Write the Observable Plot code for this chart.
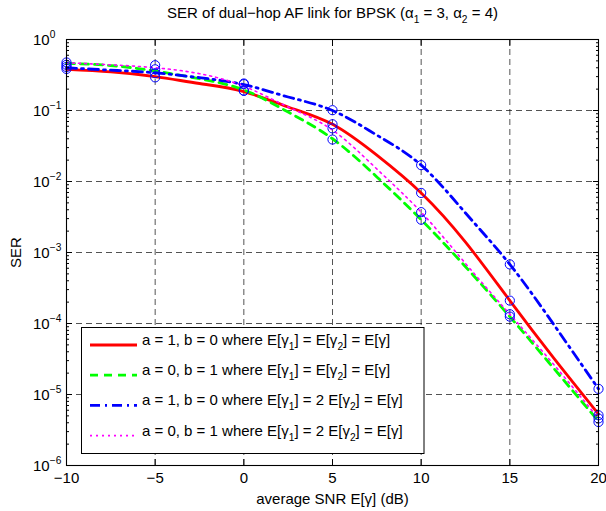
<!DOCTYPE html>
<html><head><meta charset="utf-8">
<script src="https://cdn.jsdelivr.net/npm/d3@7"></script>
<script src="https://cdn.jsdelivr.net/npm/@observablehq/plot@0.6"></script>
<style>body{margin:0;background:#fff} svg{display:block}</style>
</head><body><div id="chart"></div>
<script>
const FONT = "'Liberation Sans', Arial, Helvetica, sans-serif";

// analytic curves
const snrLine = [-10, -7.5, -5, -2.5, 0, 2.5, 5, 7.5, 10, 12.5, 15, 17.5, 20];
const serRed   = [0.38, 0.35, 0.30, 0.24, 0.185, 0.112, 0.064, 0.0235, 0.0069, 0.0014, 2.1e-4, 3.2e-5, 5.3e-6];
const serGreen = [0.46, 0.43, 0.36, 0.28, 0.195, 0.095, 0.040, 0.0116, 0.0029, 6.3e-4, 1.25e-4, 2.3e-5, 4.2e-6];
const serBlue  = [0.40, 0.37, 0.34, 0.29, 0.232, 0.155, 0.100, 0.045, 0.017, 0.0036, 6.8e-4, 9.5e-5, 1.2e-5];
const serPink  = [0.47, 0.44, 0.40, 0.33, 0.22, 0.112, 0.053, 0.0150, 0.0037, 7.0e-4, 1.35e-4, 2.6e-5, 4.6e-6];

// simulated points (blue circles)
const snrSim   = [-10, -5, 0, 5, 10, 15, 20];
const simRed   = [0.385, 0.293, 0.19, 0.064, 0.0069, 2.1e-4, 5.1e-6];
const simGreen = [0.44, 0.38, 0.19, 0.039, 0.0029, 1.25e-4, 4.1e-6];
const simBlue  = [0.41, 0.335, 0.24, 0.101, 0.017, 6.8e-4, 1.2e-5];
const simPink  = [0.475, 0.434, 0.235, 0.056, 0.0037, 1.35e-4, 4.6e-6];

const seriesNames = [
  "a = 1, b = 0 where E[γ_{1}] = E[γ_{2}] = E[γ]",
  "a = 0, b = 1 where E[γ_{1}] = E[γ_{2}] = E[γ]",
  "a = 1, b = 0 where E[γ_{1}] = 2 E[γ_{2}] = E[γ]",
  "a = 0, b = 1 where E[γ_{1}] = 2 E[γ_{2}] = E[γ]"
];
const seriesColors = ["#ff0000", "#00ff00", "#0000ff", "#ff00ff"];
const seriesDash = [null, "8,6", "10,5,2,5", "2,4"];
const seriesWidth = [2.8, 2.8, 2.8, 1.6];

const xTicks = [-10, -5, 0, 5, 10, 15, 20];
const yTicks = [1e-6, 1e-5, 1e-4, 1e-3, 1e-2, 1e-1, 1];
const yMinor = [];
for (let e = -6; e < 0; e++) for (let k = 2; k <= 9; k++) yMinor.push(k * Math.pow(10, e));

const titleText = "SER of dual−hop AF link for BPSK (α_{1} = 3, α_{2} = 4)";
const xLabel = "average SNR E[γ] (dB)";
const yLabel = "SER";

const lineVals = [serRed, serGreen, serBlue, serPink];
const simVals = [simRed, simGreen, simBlue, simPink];
const lineData = lineVals.map(v => snrLine.map((x, j) => ({x, y: v[j]})));
const simData = simVals.flatMap(v => snrSim.map((x, j) => ({x, y: v[j]})));

const gridStyle = {stroke: "#000", strokeOpacity: 0.85, strokeWidth: 0.8, strokeDasharray: "6,4"};
const noText = () => "";

const chart = Plot.plot({
  width: 606, height: 511,
  marginTop: 39, marginBottom: 46, marginLeft: 66, marginRight: 8,
  style: {fontFamily: FONT, fontSize: "15px", background: "#fff", color: "#000"},
  x: {domain: [-10, 20], label: null},
  y: {type: "log", domain: [1e-6, 1], label: null},
  marks: [
    Plot.gridX(xTicks, gridStyle),
    Plot.gridY(yTicks, gridStyle),
    ...lineData.map((d, i) => Plot.line(d, {x: "x", y: "y", curve: "natural",
      stroke: seriesColors[i], strokeWidth: seriesWidth[i], strokeDasharray: seriesDash[i]})),
    Plot.dot(simData, {x: "x", y: "y", r: 4.6, stroke: "#0000ff", fill: "none", strokeWidth: 1}),
    Plot.frame({stroke: "#000", strokeWidth: 1.1}),
    Plot.axisX(xTicks, {anchor: "bottom", tickSize: 0, tickPadding: 7, label: null,
      tickFormat: d => d < 0 ? "−" + (-d) : String(d)}),
    Plot.axisX(xTicks, {anchor: "bottom", tickSize: -6, tickFormat: noText, label: null}),
    Plot.axisX(xTicks, {anchor: "top", tickSize: -6, tickFormat: noText, label: null}),
    Plot.axisY(yTicks, {anchor: "left", tickSize: 0, tickPadding: 0, label: null,
      tickFormat: d => "10^{" + (Math.round(Math.log10(d)) < 0 ? "−" + (-Math.round(Math.log10(d))) : Math.round(Math.log10(d))) + "}"}),
    Plot.axisY(yTicks, {anchor: "left", tickSize: -6, tickFormat: noText, label: null}),
    Plot.axisY(yTicks, {anchor: "right", tickSize: -6, tickFormat: noText, label: null}),
    Plot.axisY(yMinor, {anchor: "left", tickSize: -3, tickFormat: noText, label: null}),
    Plot.axisY(yMinor, {anchor: "right", tickSize: -3, tickFormat: noText, label: null}),
    Plot.text([titleText], {frameAnchor: "top", lineAnchor: "middle", textAnchor: "middle", dy: -26, fontSize: 15}),
    Plot.text([xLabel], {frameAnchor: "bottom", lineAnchor: "middle", textAnchor: "middle", dy: 34, fontSize: 15}),
    Plot.text([yLabel], {frameAnchor: "left", lineAnchor: "middle", textAnchor: "middle", dx: -50, rotate: -90, fontSize: 15})
  ]
});
document.getElementById("chart").appendChild(chart);

function rich(el, s, base) {
  const sel = d3.select(el);
  sel.text(null);
  const parts = s.split(/([_^]\{[^}]*\})/);
  let shift = 0;
  const spans = [];
  for (const p of parts) {
    if (!p) continue;
    const m = p.match(/^([_^])\{([^}]*)\}$/);
    if (m) {
      const d = m[1] === "_" ? base * 0.33 : -base * 0.45;
      spans.push(sel.append("tspan").attr("dy", d - shift).attr("font-size", base * 0.68).text(m[2]));
      shift = d;
    } else {
      spans.push(sel.append("tspan").attr("dy", -shift).text(p));
      shift = 0;
    }
  }
  return spans;
}

const svg = d3.select(chart);
svg.selectAll("text").each(function() {
  const t = this.textContent;
  if (t === titleText) rich(this, titleText, 15);
  else if (/^10\^/.test(t)) {
    const spans = rich(this, t, 15);
    d3.select(this).attr("text-anchor", "start");
    const left = this.getBoundingClientRect().left - chart.getBoundingClientRect().left;
    spans[0].attr("dx", 33 - left).attr("dy", 1);
    if (spans[1]) spans[1].attr("dy", +spans[1].attr("dy") - 1);
  }
});

// legend
const lg = svg.append("g").attr("font-family", FONT).attr("font-size", 15).attr("text-anchor", "start");
lg.append("rect").attr("x", 81.5).attr("y", 327.5).attr("width", 342.5).attr("height", 126)
  .attr("fill", "#fff").attr("stroke", "#000").attr("stroke-width", 1);
seriesNames.forEach((name, i) => {
  const y = 345 + i * 30.2;
  lg.append("line").attr("x1", 90).attr("x2", 137).attr("y1", y).attr("y2", y)
    .attr("stroke", seriesColors[i]).attr("stroke-width", seriesWidth[i])
    .attr("stroke-dasharray", seriesDash[i]);
  const t = lg.append("text").attr("x", 142).attr("y", y).attr("dy", "0.35em").attr("text-anchor", "start");
  rich(t.node(), name, 15);
});
</script></body></html>
